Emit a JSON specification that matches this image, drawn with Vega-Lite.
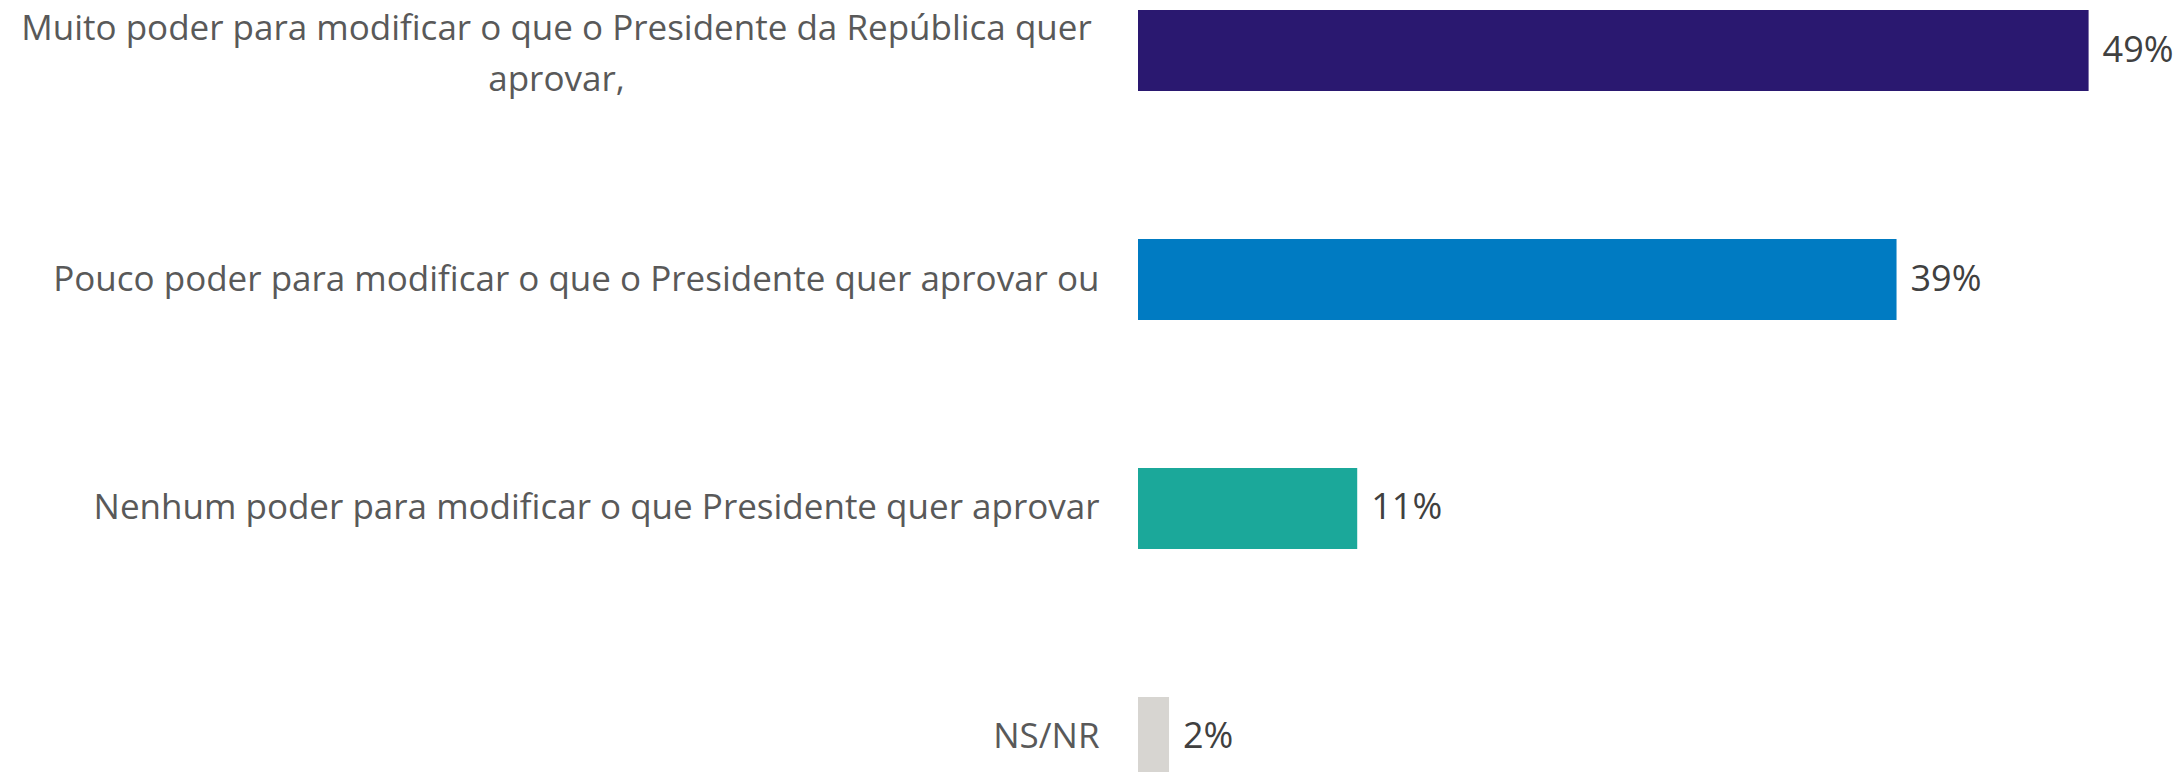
{
  "$schema": "https://vega.github.io/schema/vega-lite/v6.json",
  "autosize": "none",
  "padding": {"left": 1138, "top": 0, "right": 74, "bottom": 0},
  "width": 970,
  "height": 772,
  "background": "white",
  "config": {"view": {"stroke": null}, "font": "Open Sans"},
  "data": {"values": [
    {"resposta": "Muito poder para modificar o que o Presidente da República quer aprovar,", "valor": 49.0, "rotulo": "49%"},
    {"resposta": "Pouco poder para modificar o que o Presidente quer aprovar ou", "valor": 39.1, "rotulo": "39%"},
    {"resposta": "Nenhum poder para modificar o que Presidente quer aprovar", "valor": 11.3, "rotulo": "11%"},
    {"resposta": "NS/NR", "valor": 1.6, "rotulo": "2%"}
  ]},
  "encoding": {
    "y": {
      "field": "resposta", "type": "nominal", "sort": null,
      "scale": {"range": [0, 788], "paddingInner": 0.646, "paddingOuter": 0.044},
      "axis": {
        "title": null, "domain": false, "ticks": false,
        "labelFont": "Open Sans", "labelFontSize": 35, "labelColor": "#595959",
        "labelLimit": 1200, "labelBaseline": "middle", "labelLineHeight": 51,
        "labelAlign": {"expr": "indexof(datum.label, 'Muito') == 0 ? 'center' : 'right'"},
        "labelPadding": {"expr": "indexof(datum.label, 'Muito') == 0 ? 582 : 39"},
        "labelOffset": {"expr": "indexof(datum.label, 'Muito') == 0 ? -22 : 0"},
        "labelExpr": "indexof(datum.label, 'Muito') == 0 ? ['Muito poder para modificar o que o Presidente da República quer', 'aprovar,'] : datum.label"
      }
    },
    "x": {
      "field": "valor", "type": "quantitative",
      "scale": {"domain": [0, 50]},
      "axis": null
    }
  },
  "layer": [
    {
      "mark": {"type": "bar"},
      "encoding": {
        "color": {
          "field": "resposta", "type": "nominal", "legend": null,
          "scale": {
            "domain": [
              "Muito poder para modificar o que o Presidente da República quer aprovar,",
              "Pouco poder para modificar o que o Presidente quer aprovar ou",
              "Nenhum poder para modificar o que Presidente quer aprovar",
              "NS/NR"
            ],
            "range": ["#2A1870", "#007BC2", "#1BA89A", "#D7D5D1"]
          }
        }
      }
    },
    {
      "mark": {"type": "text", "align": "left", "baseline": "middle", "dx": 14, "font": "Open Sans", "fontSize": 36, "color": "#404040"},
      "encoding": {"text": {"field": "rotulo", "type": "nominal"}}
    }
  ]
}
